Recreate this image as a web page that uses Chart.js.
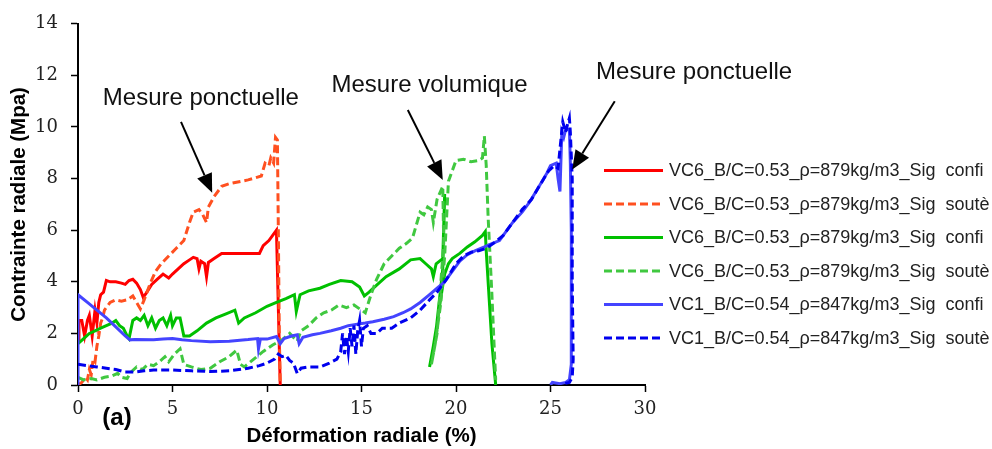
<!DOCTYPE html>
<html>
<head>
<meta charset="utf-8">
<script src="https://cdn.jsdelivr.net/npm/chart.js@4"></script>
<style>
  body { margin: 0; background: #fff; }
  canvas { display: block; }
</style>
</head>
<body>
<canvas id="chart" width="992" height="449"></canvas>
<script>
// series (x = radial strain %, y = radial stress MPa)
const seriesLabels = [
  'VC6_B/C=0.53_\u03c1=879kg/m3_Sig  confi',
  'VC6_B/C=0.53_\u03c1=879kg/m3_Sig  sout\u00e8',
  'VC6_B/C=0.53_\u03c1=879kg/m3_Sig  confi',
  'VC6_B/C=0.53_\u03c1=879kg/m3_Sig  sout\u00e8',
  'VC1_B/C=0.54_\u03c1=847kg/m3_Sig  confi',
  'VC1_B/C=0.54_\u03c1=847kg/m3_Sig  sout\u00e8'
];

const redConfiX = [0, 0.05, 0.2, 0.35, 0.5, 0.6, 0.75, 0.9, 1.0, 1.1, 1.2, 1.35, 1.5, 1.7, 2.0, 2.3, 2.5, 2.7, 2.9, 3.1, 3.3, 3.45, 3.6, 3.9, 4.2, 4.5, 4.8, 5.0, 5.3, 5.6, 5.9, 6.1, 6.3, 6.4, 6.5, 6.7, 6.8, 6.9, 7.2, 7.6, 8.5, 9.6, 9.8, 10.1, 10.3, 10.5, 10.6, 10.7];
const redConfiY = [1.7, 2.5, 2.5, 1.9, 2.5, 2.7, 1.9, 2.9, 2.4, 3.2, 3.5, 3.6, 4.05, 4.0, 4.0, 3.95, 3.9, 4.05, 4.1, 3.95, 3.7, 3.4, 3.55, 3.9, 4.1, 4.3, 4.15, 4.3, 4.5, 4.7, 4.85, 4.95, 4.9, 4.5, 4.8, 4.7, 4.2, 4.75, 4.9, 5.1, 5.1, 5.1, 5.4, 5.6, 5.8, 6.0, 3.0, 0];

const redSouteX = [0, 0.2, 0.4, 0.5, 0.6, 0.7, 0.8, 0.9, 1.0, 1.1, 1.2, 1.3, 1.4, 1.5, 1.7, 2.0, 2.3, 2.6, 2.9, 3.1, 3.3, 3.5, 3.8, 4.1, 4.4, 4.8, 5.2, 5.6, 5.9, 6.1, 6.4, 6.6, 6.8, 6.9, 7.2, 7.6, 8.0, 9.0, 9.7, 9.9, 10.1, 10.2, 10.35, 10.45, 10.55, 10.6, 10.65, 10.7];
const redSouteY = [0, 0.1, 0.3, 0.2, 0.6, 0.4, 1.0, 0.9, 1.5, 1.9, 2.4, 2.6, 2.9, 3.0, 3.2, 3.3, 3.25, 3.3, 3.45, 3.2, 2.95, 3.3, 3.9, 4.4, 4.7, 5.0, 5.3, 5.6, 6.3, 6.7, 6.8, 6.6, 6.3, 6.9, 7.3, 7.7, 7.8, 7.95, 8.1, 8.6, 8.5, 8.8, 8.6, 9.6, 9.5, 6.0, 2.0, 0];

const greenConfiX = [0, 0.3, 0.6, 0.9, 1.2, 1.5, 1.8, 2.0, 2.2, 2.4, 2.6, 2.7, 2.9, 3.1, 3.3, 3.5, 3.7, 3.9, 4.1, 4.3, 4.5, 4.7, 4.9, 5.0, 5.2, 5.4, 5.6, 5.9, 6.3, 6.8, 7.3, 7.8, 8.3, 8.5, 8.8, 9.4, 10.0, 10.5, 11.0, 11.45, 11.55, 11.75, 12.2, 12.8, 13.3, 13.9, 14.5, 14.9, 15.15, 15.4, 15.7, 16.3, 17.0, 17.6, 18.1, 18.4, 18.7, 18.8, 18.95, 19.3, 19.4, 19.3, 18.9, 18.6, 18.8, 19.0, 19.2, 19.4, 19.6, 19.8, 20.2, 20.6, 21.0, 21.4, 21.55, 21.6, 21.7, 21.8, 21.9, 22.0, 22.1];
const greenConfiY = [1.6, 1.8, 2.0, 2.1, 2.2, 2.3, 2.4, 2.5, 2.3, 2.2, 1.9, 1.8, 2.5, 2.6, 2.5, 2.7, 2.3, 2.6, 2.2, 2.5, 2.6, 2.3, 2.7, 2.3, 2.6, 2.6, 1.9, 1.9, 2.1, 2.4, 2.6, 2.75, 2.9, 2.4, 2.6, 2.8, 3.05, 3.2, 3.35, 3.5, 2.85, 3.5, 3.65, 3.75, 3.9, 4.05, 4.0, 3.8, 3.45, 3.6, 3.8, 4.2, 4.5, 4.85, 4.9, 4.7, 4.5, 4.2, 4.7, 4.9, 7.4, 4.5, 1.8, 0.7, 1.5, 2.4, 3.4, 4.3, 4.7, 4.9, 5.1, 5.35, 5.55, 5.8, 5.95, 5.2, 4.0, 2.8, 1.6, 0.8, 0];

const greenSouteX = [0, 0.3, 0.7, 1.0, 1.4, 1.8, 2.1, 2.3, 2.6, 2.8, 3.1, 3.4, 3.7, 4.0, 4.3, 4.6, 4.8, 5.1, 5.4, 5.6, 6.0, 6.5, 7.0, 7.5, 8.0, 8.4, 8.6, 8.8, 9.3, 9.8, 10.3, 10.8, 11.2, 11.6, 11.8, 12.2, 12.6, 13.0, 13.4, 13.8, 14.2, 14.6, 14.9, 15.2, 15.5, 15.8, 16.2, 16.6, 17.0, 17.4, 17.7, 17.9, 18.1, 18.3, 18.5, 18.7, 18.8, 19.0, 19.3, 19.35, 19.0, 18.7, 18.9, 19.2, 19.4, 19.6, 19.8, 20.0, 20.4, 20.8, 21.2, 21.4, 21.5, 21.6, 21.7, 21.8, 21.9, 22.0, 22.1];
const greenSouteY = [0.3, 0.2, 0.25, 0.2, 0.3, 0.35, 0.45, 0.3, 0.25, 0.5, 0.7, 0.6, 0.8, 0.75, 0.9, 1.1, 0.9, 1.2, 1.4, 0.8, 0.7, 0.6, 0.65, 0.9, 1.1, 1.35, 0.8, 0.7, 1.0, 1.3, 1.55, 1.75, 2.0, 1.7, 2.1, 2.3, 2.6, 2.8, 2.9, 3.1, 3.0, 3.1, 2.95, 2.8, 3.5, 4.1, 4.7, 5.0, 5.3, 5.5, 5.7, 6.2, 6.7, 6.6, 6.9, 6.8, 6.3, 7.2, 7.7, 5.5, 2.0, 0.8, 1.6, 3.2, 5.0, 7.9, 8.3, 8.7, 8.75, 8.65, 8.7, 8.8, 9.65, 8.5, 6.5, 5.0, 3.5, 1.8, 0.2];

const blueConfiX = [0, 0, 0.5, 1.0, 1.5, 2.0, 2.5, 2.75, 3.0, 4.0, 4.5, 5.0, 5.5, 6.0, 7.0, 8.0, 9.0, 9.5, 9.55, 9.65, 10.0, 10.5, 10.7, 10.9, 11.3, 11.6, 11.7, 11.9, 12.4, 12.8, 13.4, 13.9, 14.3, 14.7, 15.2, 15.6, 16.2, 16.7, 17.2, 17.6, 18.1, 18.6, 19.0, 19.4, 19.8, 20.2, 20.6, 21.0, 21.5, 21.8, 22.3, 22.7, 23.0, 23.5, 23.9, 24.4, 24.8, 25.0, 25.3, 25.4, 25.5, 25.6, 25.7, 25.8, 26.0, 26.05, 26.1, 26.1, 26.1, 26.0, 25.8, 25.5, 25.1, 25.0];
const blueConfiY = [0, 3.5, 3.2, 2.9, 2.6, 2.25, 1.9, 1.75, 1.76, 1.75, 1.78, 1.8, 1.75, 1.72, 1.68, 1.7, 1.76, 1.8, 1.4, 1.78, 1.78, 1.88, 1.6, 1.8, 1.9, 1.95, 1.6, 1.85, 1.95, 2.0, 2.1, 2.2, 2.3, 2.35, 2.4, 2.45, 2.55, 2.65, 2.8, 2.95, 3.2, 3.5, 3.75, 4.0, 4.4, 4.8, 5.05, 5.2, 5.35, 5.45, 5.6, 6.0, 6.3, 6.7, 7.1, 7.7, 8.2, 8.5, 8.6, 8.0, 7.5, 9.8, 9.6, 9.9, 9.9, 8.6, 6.0, 3.0, 0.8, 0.2, 0.1, 0.05, 0.1, 0];

const blueSouteX = [0, 0.5, 1.0, 1.5, 2.0, 2.5, 3.0, 3.5, 4.0, 5.0, 6.0, 7.0, 8.0, 9.0, 9.6, 10.0, 10.4, 10.6, 10.8, 11.0, 11.2, 11.4, 11.6, 11.8, 12.2, 12.8, 13.3, 13.7, 13.9, 14.0, 14.1, 14.2, 14.3, 14.4, 14.5, 14.6, 14.7, 14.8, 14.9, 15.0, 15.1, 15.3, 15.5, 15.8, 16.1, 16.6, 17.0, 17.6, 18.1, 18.6, 19.0, 19.5, 20.0, 20.4, 20.8, 21.2, 21.6, 22.0, 22.5, 23.0, 23.5, 24.0, 24.4, 24.9, 25.2, 25.4, 25.55, 25.65, 25.8, 25.9, 26.0, 26.05, 26.15, 26.15, 26.2, 26.15, 26.0, 25.7];
const blueSouteY = [0.8, 0.75, 0.7, 0.65, 0.6, 0.5, 0.5, 0.55, 0.58, 0.58, 0.55, 0.52, 0.55, 0.65, 0.75, 0.85, 1.0, 1.2, 1.1, 1.15, 0.95, 0.85, 0.45, 0.65, 0.7, 0.7, 0.85, 1.0, 1.3, 2.0, 1.2, 1.9, 1.3, 2.2, 1.5, 2.3, 1.2, 2.1, 2.5, 1.5, 2.2, 2.3, 2.0, 2.0, 2.2, 2.2, 2.4, 2.6, 2.9, 3.3, 3.6, 4.1, 4.7, 5.0, 5.15, 5.2, 5.3, 5.5, 5.8, 6.3, 6.8, 7.2, 7.7, 8.3, 8.5, 8.4, 9.5, 10.2, 9.8, 10.1, 10.35, 9.8, 8.0, 4.0, 1.0, 0.3, 0.1, 0.05];

const xTickStep = 5, xMax = 30;
const yTickStep = 2, yMax = 14;

const callouts = [
  { text: 'Mesure ponctuelle', tx: 6.5, ty: 11.12, from: [5.45, 10.2], to: [7.1, 7.45] },
  { text: 'Mesure volumique', tx: 18.6, ty: 11.62, from: [17.45, 10.66], to: [19.3, 7.95] },
  { text: 'Mesure ponctuelle', tx: 32.6, ty: 12.12, from: [28.4, 11.0], to: [26.15, 8.35] }
];

function pts(xs, ys) {
  return xs.map((x, i) => ({ x: x, y: ys[i] }));
}

const styles = [
  { color: '#ff0000', dash: [] },
  { color: '#ff5020', dash: [8, 4] },
  { color: '#00c000', dash: [] },
  { color: '#40c840', dash: [8, 4] },
  { color: '#4444ff', dash: [] },
  { color: '#0000ee', dash: [8, 4] }
];
const seriesData = [
  pts(redConfiX, redConfiY), pts(redSouteX, redSouteY),
  pts(greenConfiX, greenConfiY), pts(greenSouteX, greenSouteY),
  pts(blueConfiX, blueConfiY), pts(blueSouteX, blueSouteY)
];

const datasets = seriesData.map((d, i) => ({
  label: seriesLabels[i],
  data: d,
  showLine: true,
  borderColor: styles[i].color,
  backgroundColor: styles[i].color,
  borderWidth: 3,
  borderDash: styles[i].dash,
  pointRadius: 0,
  tension: 0,
  order: 6 - i
}));

// legend + arrows drawn on top of the chart
const overlay = {
  id: 'overlay',
  afterDraw(chart) {
    const ctx = chart.ctx;
    const xs = chart.scales.x, ys = chart.scales.y;
    ctx.save();
    // legend
    ctx.font = '18px "Liberation Sans", Arial, sans-serif';
    ctx.textBaseline = 'middle';
    chart.data.datasets.forEach((ds, i) => {
      const y = 170.5 + i * 33.5;
      ctx.strokeStyle = ds.borderColor;
      ctx.lineWidth = 3;
      ctx.setLineDash(ds.borderDash);
      ctx.beginPath();
      ctx.moveTo(604, y);
      ctx.lineTo(663, y);
      ctx.stroke();
      ctx.setLineDash([]);
      ctx.fillStyle = '#222';
      ctx.textAlign = 'left';
      ctx.fillText(ds.label, 669, y + 1);
    });
    // callouts
    ctx.font = '24px "Liberation Sans", Arial, sans-serif';
    ctx.textAlign = 'center';
    callouts.forEach(c => {
      ctx.fillStyle = '#111';
      ctx.fillText(c.text, xs.getPixelForValue(c.tx), ys.getPixelForValue(c.ty));
      const x1 = xs.getPixelForValue(c.from[0]), y1 = ys.getPixelForValue(c.from[1]);
      const x2 = xs.getPixelForValue(c.to[0]), y2 = ys.getPixelForValue(c.to[1]);
      const a = Math.atan2(y2 - y1, x2 - x1);
      const hl = 19, hw = 8;
      const bx = x2 - hl * Math.cos(a), by = y2 - hl * Math.sin(a);
      ctx.strokeStyle = '#000';
      ctx.lineWidth = 2;
      ctx.beginPath();
      ctx.moveTo(x1, y1);
      ctx.lineTo(bx, by);
      ctx.stroke();
      ctx.fillStyle = '#000';
      ctx.beginPath();
      ctx.moveTo(x2, y2);
      ctx.lineTo(bx + hw * Math.sin(a), by - hw * Math.cos(a));
      ctx.lineTo(bx - hw * Math.sin(a), by + hw * Math.cos(a));
      ctx.closePath();
      ctx.fill();
    });
    // panel tag
    ctx.font = 'bold 24px "Liberation Sans", Arial, sans-serif';
    ctx.fillStyle = '#000';
    ctx.fillText('(a)', 117, 418);
    ctx.restore();
  }
};

new Chart(document.getElementById('chart'), {
  type: 'scatter',
  data: { datasets: datasets },
  options: {
    responsive: false,
    animation: false,
    layout: { padding: { left: 7, right: 347, top: 20, bottom: 0 } },
    plugins: { legend: { display: false }, tooltip: { enabled: false } },
    scales: {
      x: {
        type: 'linear', min: 0, max: xMax,
        afterFit: s => { s.height = 64; },
        border: { display: true, color: '#000', width: 2 },
        grid: { display: true, drawOnChartArea: false, drawTicks: true, tickLength: 7, color: '#000', tickWidth: 1.5 },
        ticks: { stepSize: xTickStep, padding: 7, color: '#222', font: { family: '"DejaVu Serif", serif', size: 18 } },
        title: { display: true, text: 'Déformation radiale (%)', color: '#000', padding: { top: 0, bottom: 0 },
                 font: { family: '"Liberation Sans", Arial, sans-serif', size: 20.5, weight: 'bold' } }
      },
      y: {
        type: 'linear', min: 0, max: yMax,
        afterFit: s => { s.width = 71; },
        border: { display: true, color: '#000', width: 2 },
        grid: { display: true, drawOnChartArea: false, drawTicks: true, tickLength: 7, color: '#000', tickWidth: 1.5 },
        ticks: { stepSize: yTickStep, padding: 13, color: '#222', font: { family: '"DejaVu Serif", serif', size: 18 } },
        title: { display: true, text: 'Contrainte radiale (Mpa)', color: '#000', padding: { top: 0, bottom: 0 },
                 font: { family: '"Liberation Sans", Arial, sans-serif', size: 20.5, weight: 'bold' } }
      }
    }
  },
  plugins: [overlay]
});
</script>
</body>
</html>
